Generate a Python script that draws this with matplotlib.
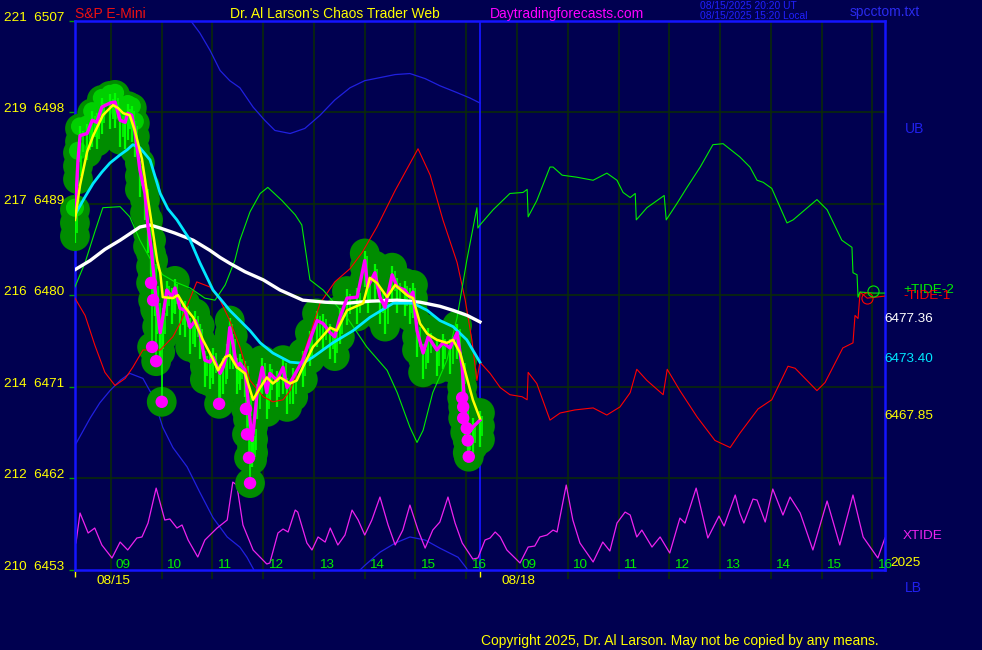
import matplotlib
matplotlib.use("Agg")
import matplotlib.pyplot as plt
import numpy as np

W, H = 982, 650
BG = "#000050"
GRID = "#0a2a0a"
AXIS_BLUE = "#1414ff"

# time axis: hours after 09:00 on 08/15, 08/18 session continues after the divider
hour_ticks = [0, 1, 2, 3, 4, 5, 6, 7, 8, 9, 10, 11, 12, 13, 14, 15]
hour_labels = ["09", "10", "11", "12", "13", "14", "15", "16",
               "09", "10", "11", "12", "13", "14", "15", "16"]
session_starts = [-0.71, 7.27]
session_dates = ["08/15", "08/18"]

price_levels = [6453, 6462, 6471, 6480, 6489, 6498, 6507]
left_codes = [210, 212, 214, 216, 217, 219, 221]

# price bars (close line) and moving averages, 08/15
price_t = [-0.71, -0.65, -0.61, -0.47, -0.37, -0.28, -0.18, -0.02, 0.08, 0.18,
           0.28, 0.33, 0.41, 0.47, 0.57, 0.67, 0.73, 0.79, 0.83, 0.87,
           0.91, 0.97, 1.02, 1.10, 1.20, 1.26, 1.36, 1.46, 1.56, 1.66,
           1.75, 1.85, 1.95, 2.01, 2.15, 2.21, 2.29, 2.34, 2.40, 2.48,
           2.54, 2.64, 2.70, 2.78, 2.80, 2.88, 2.98, 3.07, 3.13, 3.27,
           3.39, 3.47, 3.59, 3.78, 3.92, 4.06, 4.18, 4.32, 4.41, 4.51,
           4.65, 4.85, 5.00, 5.06, 5.20, 5.30, 5.40, 5.54, 5.64, 5.79,
           5.89, 5.95, 6.03, 6.15, 6.25, 6.42, 6.54, 6.68, 6.82, 6.92,
           6.98, 7.03, 7.13, 7.27]
price_p = [6487.7, 6493.3, 6495.7, 6495.9, 6497.2, 6497.0, 6498.5, 6498.9, 6499.0, 6497.2,
           6497.0, 6497.9, 6497.7, 6496.2, 6492.3, 6490.0, 6486.7, 6484.7, 6482.7, 6480.5,
           6478.8, 6476.3, 6477.8, 6480.5, 6479.8, 6480.7, 6478.7, 6478.5, 6476.8, 6477.5,
           6476.3, 6473.6, 6473.4, 6473.9, 6472.3, 6472.9, 6474.3, 6476.8, 6475.3, 6472.9,
           6473.3, 6472.6, 6469.7, 6465.7, 6466.4, 6470.4, 6472.9, 6470.4, 6472.3, 6471.6,
           6472.9, 6470.9, 6471.9, 6473.6, 6475.6, 6477.5, 6477.2, 6476.3, 6475.9, 6477.8,
           6479.7, 6479.8, 6483.4, 6480.8, 6482.2, 6479.8, 6478.8, 6482.0, 6480.8, 6480.5,
           6479.8, 6480.3, 6476.5, 6474.3, 6475.9, 6474.6, 6475.3, 6474.8, 6476.3, 6472.9,
           6468.4, 6466.4, 6467.0, 6467.7]

yellow_t = [-0.71, -0.61, -0.47, -0.35, -0.16, 0.04, 0.14, 0.24, 0.37, 0.47,
            0.61, 0.73, 0.83, 0.91, 0.97, 1.02, 1.22, 1.32, 1.46, 1.62,
            1.81, 1.99, 2.11, 2.25, 2.34, 2.48, 2.64, 2.80, 2.94, 3.07,
            3.19, 3.33, 3.53, 3.66, 3.78, 3.98, 4.32, 4.45, 4.65, 4.97,
            5.10, 5.24, 5.44, 5.60, 5.83, 5.95, 6.09, 6.23, 6.42, 6.62,
            6.74, 6.88, 7.01, 7.13, 7.27]
yellow_p = [6487.4, 6490.8, 6494.1, 6495.7, 6497.7, 6498.7, 6498.4, 6497.9, 6497.7, 6496.2,
            6493.4, 6489.4, 6486.1, 6483.4, 6482.2, 6479.8, 6479.7, 6480.0, 6478.8, 6477.8,
            6475.6, 6473.9, 6472.6, 6473.9, 6474.1, 6472.9, 6472.3, 6469.7, 6470.9, 6471.9,
            6471.3, 6471.9, 6471.3, 6471.6, 6472.9, 6474.9, 6476.8, 6476.5, 6478.5, 6479.2,
            6481.7, 6481.2, 6479.8, 6481.0, 6480.0, 6479.7, 6477.2, 6476.2, 6475.6, 6475.3,
            6475.6, 6474.3, 6471.9, 6469.7, 6467.85]

cyan_t = [-0.71, -0.53, -0.35, -0.18, -0.02, 0.18, 0.32, 0.43, 0.57, 0.77,
          0.97, 1.12, 1.30, 1.56, 1.75, 2.01, 2.34, 2.74, 2.94, 3.19,
          3.53, 3.78, 3.98, 4.37, 4.77, 5.10, 5.56, 5.95, 6.23, 6.48,
          6.74, 7.01, 7.27]
cyan_p = [6487.9, 6489.5, 6491.0, 6492.1, 6493.0, 6493.8, 6494.3, 6494.8, 6494.5, 6493.3,
          6490.0, 6488.5, 6487.4, 6485.4, 6483.2, 6480.5, 6478.5, 6476.5, 6475.3, 6474.3,
          6473.4, 6473.3, 6473.9, 6475.3, 6476.5, 6477.8, 6479.2, 6479.2, 6478.5, 6477.5,
          6476.9, 6475.6, 6473.40]

white_t = [-0.71, -0.41, -0.12, 0.18, 0.57, 0.77, 0.97, 1.26, 1.62, 1.95,
           2.15, 2.35, 2.64, 3.00, 3.33, 3.78, 4.22, 4.65, 5.10, 5.64,
           6.09, 6.48, 6.74, 7.02, 7.27]
white_p = [6482.5, 6483.4, 6484.5, 6485.4, 6486.7, 6486.9, 6486.6, 6486.1, 6485.4, 6484.4,
           6483.7, 6483.1, 6482.3, 6481.5, 6480.5, 6479.5, 6479.3, 6479.2, 6479.4, 6479.5,
           6479.3, 6478.9, 6478.5, 6478.0, 6477.36]

dots_t = [0.79, 0.83, 0.81, 0.89, 1.00, 2.13, 2.66, 2.68, 2.72, 2.74,
          6.92, 6.94, 6.94, 7.01, 7.03, 7.05]
dots_p = [6481.2, 6479.5, 6474.9, 6473.5, 6469.5, 6469.3, 6468.8, 6466.3, 6464.0, 6461.5,
          6469.9, 6469.0, 6467.9, 6466.9, 6465.7, 6464.1]

# upper / lower bands
ub_t = [1.46, 1.60, 1.75, 1.95, 2.15, 2.34, 2.54, 2.80, 3.03, 3.23,
        3.53, 3.82, 4.12, 4.41, 4.71, 5.00, 5.30, 5.60, 5.89, 6.19,
        6.48, 6.78, 7.07, 7.27]
ub_p = [6507.8, 6506.8, 6505.8, 6504.1, 6502.1, 6501.1, 6500.4, 6498.5, 6497.2, 6496.2,
        6495.9, 6496.4, 6497.7, 6499.2, 6500.4, 6501.1, 6501.4, 6501.7, 6501.8, 6501.3,
        6500.6, 6500.0, 6499.4, 6498.9]
lb_t = [-0.71, -0.41, -0.22, -0.02, 0.18, 0.37, 0.63, 0.83, 1.02, 1.22,
        1.50, 1.75, 2.01, 2.29, 2.54, 2.68, 2.80, 2.90, 3.80, 4.71,
        5.00, 5.30, 5.60, 5.89, 6.19, 6.48, 6.68, 6.84, 7.01, 7.07]
lb_p = [6465.2, 6467.9, 6469.4, 6470.6, 6471.6, 6472.3, 6471.8, 6470.0, 6467.0, 6465.0,
        6463.1, 6460.6, 6458.1, 6456.2, 6455.2, 6454.2, 6453.1, 6452.2, 6440.0, 6452.0,
        6453.4, 6454.7, 6455.6, 6456.2, 6455.9, 6455.1, 6454.6, 6454.2, 6453.1, 6452.1]

# tide forecasts (both days)
tide1_t = [-0.71, -0.51, -0.32, -0.12, 0.08, 0.28, 0.43, 0.63, 0.97, 1.22,
           1.36, 1.69, 1.95, 2.15, 2.34, 2.54, 2.74, 3.00, 3.19, 3.39,
           3.53, 3.72, 3.92, 4.12, 4.41, 4.71, 4.95, 5.24, 5.60, 6.05,
           6.29, 6.54, 6.82, 6.98, 7.11, 7.21, 7.27,
           7.47, 7.67, 7.86, 8.10, 8.20, 8.22, 8.39, 8.65, 8.85, 9.14,
           9.50, 9.77, 10.03, 10.23, 10.36, 10.56, 10.88, 10.96, 11.21, 11.55,
           11.90, 12.20, 12.39, 12.75, 13.02, 13.34, 13.48, 13.91, 14.07, 14.42,
           14.62, 14.66, 14.72, 14.76, 14.90, 15.25]
tide1_p = [6479.7, 6478.0, 6475.1, 6472.4, 6471.1, 6471.8, 6472.9, 6474.6, 6474.6, 6475.9,
           6477.2, 6481.3, 6480.8, 6479.5, 6477.5, 6474.9, 6471.6, 6470.0, 6469.5, 6469.7,
           6470.6, 6473.1, 6476.1, 6479.2, 6481.3, 6482.6, 6484.2, 6486.7, 6490.3, 6494.4,
           6491.8, 6487.4, 6483.2, 6479.5, 6475.6, 6471.6, 6473.4,
           6472.3, 6470.9, 6470.2, 6470.0, 6469.7, 6472.4, 6471.3, 6467.7, 6468.4, 6468.7,
           6468.9, 6468.2, 6469.0, 6470.4, 6472.7, 6471.6, 6470.2, 6472.7, 6470.6, 6468.0,
           6465.7, 6465.0, 6466.4, 6468.8, 6469.7, 6473.0, 6472.8, 6470.6, 6471.4, 6474.8,
           6475.3, 6478.0, 6477.7, 6480.3, 6479.7, 6479.9]

tide2_t = [-0.71, -0.51, -0.32, -0.16, 0.18, 0.37, 0.57, 0.77, 1.02, 1.26,
           1.56, 1.85, 2.05, 2.25, 2.44, 2.54, 2.74, 2.94, 3.09, 3.37,
           3.63, 3.76, 3.92, 4.18, 4.65, 5.04, 5.44, 5.64, 5.89, 6.03,
           6.15, 6.34, 6.62, 6.82, 7.01, 7.21, 7.23, 7.27,
           7.53, 7.86, 8.12, 8.20, 8.22, 8.39, 8.65, 8.71, 8.89, 9.18,
           9.50, 9.77, 9.97, 10.09, 10.23, 10.33, 10.35, 10.56, 10.90, 10.94,
           11.15, 11.35, 11.61, 11.86, 12.06, 12.39, 12.59, 12.73, 12.85, 13.02,
           13.32, 13.44, 13.91, 14.11, 14.40, 14.60, 14.62, 14.70, 14.72, 14.76,
           15.02, 15.25]
tide2_p = [6480.8, 6483.2, 6486.2, 6488.6, 6488.7, 6487.7, 6485.4, 6483.6, 6482.0, 6481.3,
           6480.7, 6479.7, 6479.5, 6481.0, 6483.4, 6485.4, 6488.2, 6490.0, 6490.6, 6489.3,
           6487.9, 6486.9, 6481.5, 6480.5, 6477.8, 6474.9, 6472.6, 6470.4, 6467.0, 6465.5,
           6466.7, 6470.4, 6473.6, 6477.8, 6483.4, 6488.6, 6486.6, 6486.9,
           6488.4, 6490.0, 6490.1, 6490.4, 6487.7, 6489.3, 6492.6, 6492.6, 6491.8, 6491.6,
           6491.3, 6492.0, 6491.3, 6490.1, 6489.6, 6490.0, 6487.4, 6488.6, 6489.8, 6487.4,
           6489.0, 6490.6, 6492.6, 6494.8, 6494.9, 6493.6, 6492.6, 6491.3, 6491.1, 6490.5,
           6487.1, 6487.4, 6489.4, 6488.4, 6485.4, 6484.7, 6482.2, 6482.0, 6479.8, 6480.3,
           6480.2, 6480.2]

# XTIDE oscillator, drawn in the bottom band above 6453
xtide_t = [-0.69, -0.61, -0.45, -0.32, -0.18, 0.02, 0.18, 0.33, 0.51, 0.61,
           0.73, 0.89, 1.06, 1.16, 1.30, 1.40, 1.52, 1.71, 1.85, 2.09,
           2.29, 2.40, 2.48, 2.60, 2.80, 3.07, 3.13, 3.29, 3.39, 3.49,
           3.63, 3.68, 3.86, 3.96, 4.08, 4.22, 4.32,
           4.47, 4.61, 4.75, 4.87, 5.00, 5.14, 5.30, 5.46, 5.60, 5.75,
           5.89, 6.05, 6.19, 6.34,
           6.48, 6.64, 6.78, 6.92, 7.13, 7.23, 7.37, 7.47, 7.57, 7.67,
           7.80, 8.06, 8.22, 8.35, 8.45, 8.59, 8.71, 8.79, 8.97, 9.10,
           9.24, 9.50, 9.69, 9.83, 9.97, 10.13, 10.23, 10.36, 10.46, 10.66,
           10.82, 11.01, 11.21, 11.31, 11.53, 11.76, 11.98, 12.08, 12.30, 12.39,
           12.47, 12.65, 12.73, 12.89, 13.04, 13.24, 13.38, 13.58, 13.83, 14.11,
           14.36, 14.62, 14.82, 15.11, 15.25]
xtide_v = [2.61, 5.56, 3.59, 4.08, 2.41, 1.13, 2.70, 1.92, 3.10, 3.20,
           4.57, 8.01, 4.87, 4.97, 4.08, 4.38, 2.90, 1.23, 2.90, 4.08,
           4.87, 8.60, 8.31, 4.38, 1.92, 0.54, 0.64, 3.59, 3.98, 3.69,
           5.85, 5.65, 2.61, 1.92, 3.20, 2.70, 4.08,
           2.41, 3.39, 5.85, 4.87, 3.39, 4.87, 7.13, 4.38, 2.41, 3.88,
           6.34, 3.88, 2.11, 3.88,
           4.67, 7.13, 4.57, 2.61, 1.03, 1.13, 2.90, 3.10, 3.69, 3.20,
           1.92, 0.64, 2.21, 2.31, 3.20, 3.39, 3.88, 3.69, 8.31, 4.87,
           2.61, 0.74, 2.70, 1.82, 4.57, 5.65, 5.36, 3.20, 3.88, 2.21,
           3.20, 1.62, 5.06, 4.57, 8.01, 3.10, 5.26, 4.28, 7.33, 5.56,
           4.57, 6.93, 6.83, 4.67, 7.92, 5.36, 7.13, 5.56, 1.92, 6.74,
           2.41, 7.33, 3.20, 1.13, 3.10]
XTIDE_BASE = 6453


def px_text(fig, x, y, s, color, size, **kw):
    # place header/footer text by pixel position (y from the top)
    fig.text(x / W, 1 - y / H, s, color=color, fontsize=size, va="baseline", **kw)


def draw_price(ax):
    t = np.array(price_t)
    p = np.array(price_p)
    blob_t = np.concatenate([t, t, t, dots_t])
    blob_p = np.concatenate([p + 0.7, p - 0.6, p - 1.9, dots_p])
    ax.scatter(blob_t, blob_p, s=460, color="#008c00", edgecolors="none", zorder=3, clip_on=False)
    ax.scatter(t[:14], p[:14] + 0.9, s=170, color="#00d000", edgecolors="none", zorder=3, clip_on=False)
    ax.vlines(t, p - 2.6, p + 0.9, color="#00ff00", lw=1.6, zorder=4)
    ax.vlines(t + 0.05, p - 1.6, p + 0.4, color="#00ff00", lw=1.2, zorder=4)
    ax.vlines(dots_t, dots_p, np.interp(dots_t, t, p), color="#00ff00", lw=1.2, zorder=4)

    ax.plot(tide1_t, tide1_p, color="#ff0000", lw=0.8, zorder=5)
    ax.plot(tide2_t, tide2_p, color="#00ee00", lw=0.8, zorder=5)
    ax.plot([tide1_t[-2]], [tide1_p[-2]], "o", mfc="none", mec="#ff0000", ms=8, mew=0.8, zorder=5)
    ax.plot([tide2_t[-2]], [tide2_p[-2] + 0.2], "o", mfc="none", mec="#00ee00", ms=8, mew=0.8, zorder=5)

    ax.plot(white_t, white_p, color="white", lw=2.4, zorder=6)
    ax.plot(cyan_t, cyan_p, color="#00e8ff", lw=2.0, zorder=6)
    ax.plot(t, p, color="#ff00ff", lw=2.4, zorder=7)
    ax.plot(yellow_t, yellow_p, color="#ffff00", lw=1.8, zorder=8)
    ax.scatter(dots_t, dots_p, s=80, color="#ff00ff", edgecolors="none", zorder=9)


def main():
    plt.rcParams["font.family"] = ["Liberation Sans", "DejaVu Sans"]
    fig = plt.figure(figsize=(W / 100, H / 100), dpi=100, facecolor=BG)
    ax = fig.add_axes([75 / W, (H - 569.5) / H, 810 / W, 548.8 / H], facecolor=BG)
    ax.set_xlim(-0.709, 15.251)
    ax.set_ylim(6453, 6507)

    xt = ax.get_xaxis_transform()
    yt = ax.get_yaxis_transform()

    ax.vlines(hour_ticks, -0.018, 1, transform=xt, color=GRID, lw=1.2, zorder=0, clip_on=False)
    ax.hlines(price_levels[1:-1], -0.709, 15.251, color=GRID, lw=1.2, zorder=0)
    ax.axvline(session_starts[1], color=AXIS_BLUE, lw=1.3, zorder=2)

    ax.plot(ub_t, ub_p, color="#2020e0", lw=0.9, zorder=2)
    ax.plot(lb_t, lb_p, color="#2020e0", lw=0.9, zorder=2)
    ax.plot(xtide_t, XTIDE_BASE + np.array(xtide_v), color="#ee22ee", lw=0.9, zorder=2)

    draw_price(ax)

    for s in ax.spines.values():
        s.set_color(AXIS_BLUE)
        s.set_linewidth(1.8)
        s.set_zorder(2.5)
    ax.set_xticks([])
    ax.set_yticks(price_levels)
    ax.set_yticklabels([])
    ax.tick_params(axis="y", colors="#00a000", length=4, width=1)

    for code, lvl in zip(left_codes, price_levels):
        ax.text(-0.0136, lvl, f"{code}  {lvl}", transform=yt, ha="right", va="baseline",
                color="#ffff00", fontsize=9.7)
    for h, lab in zip(hour_ticks, hour_labels):
        ax.text(h + 0.09, 0.003, lab, transform=xt, ha="left", va="baseline",
                color="#00ee00", fontsize=9.7, zorder=10)
    for x0, d in zip(session_starts, session_dates):
        ax.vlines(x0, -0.0137, -0.003, transform=xt, color="#ffff00", lw=1, clip_on=False)
        ax.text(x0 + 0.43, -0.0265, d, transform=xt, ha="left", va="baseline",
                color="#ffff00", fontsize=9.7)

    ax.text(0.9988, white_p[-1], f"{white_p[-1]:.2f}", transform=yt, color="white",
            fontsize=9.7, va="baseline")
    ax.text(0.9988, cyan_p[-1], f"{cyan_p[-1]:.2f}", transform=yt, color="#00e8ff",
            fontsize=9.7, va="baseline")
    ax.text(0.9988, yellow_p[-1], f"{yellow_p[-1]:.2f}", transform=yt, color="#ffff00",
            fontsize=9.7, va="baseline")
    ax.text(1.0222, tide2_p[-1], "+TIDE-2", transform=yt, color="#00ee00", fontsize=9.7, va="baseline")
    ax.text(1.0222, tide1_p[-1] - 0.25, "-TIDE-1", transform=yt, color="#ff0000", fontsize=9.7, va="baseline")

    px_text(fig, 75, 18, "S&P E-Mini", "#ee1111", 10)
    px_text(fig, 230, 18, "Dr. Al Larson's Chaos Trader Web", "#ffff00", 10)
    px_text(fig, 490, 18, "Daytradingforecasts.com", "#ff00ff", 10)
    px_text(fig, 700, 9.3, "08/15/2025 20:20 UT", "#2020ff", 7.4)
    px_text(fig, 700, 19.3, "08/15/2025 15:20 Local", "#2020ff", 7.4)
    px_text(fig, 850, 16, "spcctom.txt", "#2a2aee", 10)
    px_text(fig, 905, 133, "UB", "#2020ee", 10)
    px_text(fig, 903, 539, "XTIDE", "#ee22ee", 9.7)
    px_text(fig, 890, 566, "2025", "#ffff00", 9.7)
    px_text(fig, 905, 592, "LB", "#2020ee", 10)
    px_text(fig, 481, 645, "Copyright 2025, Dr. Al Larson. May not be copied by any means.", "#ffff00", 10)

    fig.savefig("out.png", dpi=100, facecolor=BG)
    plt.close(fig)


if __name__ == "__main__":
    main()
